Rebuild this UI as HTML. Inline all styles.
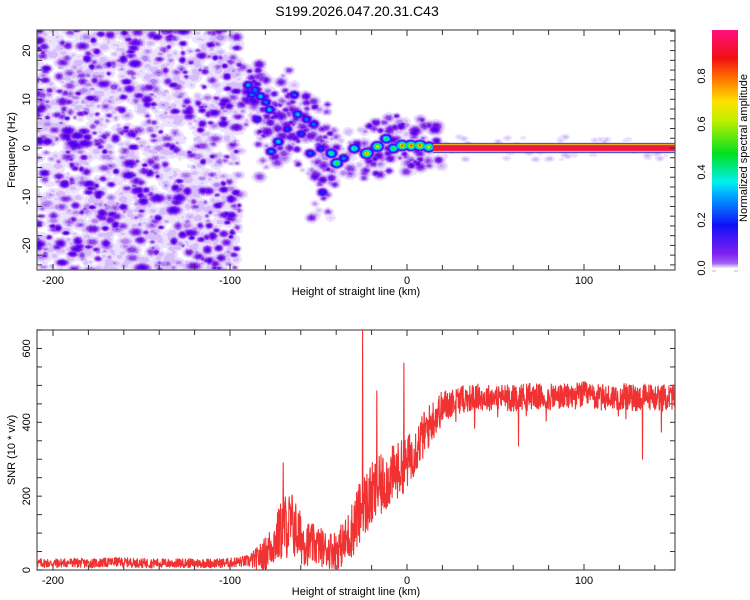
<!DOCTYPE html>
<html><head><meta charset="utf-8">
<style>
html,body{margin:0;padding:0;background:#fff;}
body{width:750px;height:600px;position:relative;overflow:hidden;font-family:"Liberation Sans",sans-serif;}
#spec{position:absolute;left:37px;top:30px;}
svg{position:absolute;left:0;top:0;}
text{font-family:"Liberation Sans",sans-serif;fill:#000;}
</style></head>
<body>
<canvas id="spec" width="638" height="240"></canvas>
<svg id="svg" width="750" height="600">
<text x="357" y="16" font-size="14" text-anchor="middle">S199.2026.047.20.31.C43</text>
<g id="axes"></g>
<g id="snr"></g>
<defs><linearGradient id="cbg" x1="0" y1="1" x2="0" y2="0">
<stop offset="0" stop-color="#f4eeff"/><stop offset="0.02" stop-color="#a060f0"/><stop offset="0.06" stop-color="#8020f0"/>
<stop offset="0.18" stop-color="#1010f8"/><stop offset="0.3" stop-color="#00a0ff"/><stop offset="0.36" stop-color="#00f0f0"/>
<stop offset="0.48" stop-color="#00e020"/><stop offset="0.62" stop-color="#c0f000"/><stop offset="0.7" stop-color="#ffe000"/>
<stop offset="0.8" stop-color="#ff7000"/><stop offset="0.88" stop-color="#f01010"/><stop offset="1" stop-color="#ff1080"/>
</linearGradient></defs>
<rect x="712" y="30" width="26" height="238" fill="url(#cbg)"/>
<line x1="712" y1="271" x2="716" y2="271" stroke="#bbb"/>
<line x1="734" y1="271" x2="738" y2="271" stroke="#bbb"/>
<text transform="translate(747,148) rotate(-90)" font-size="11" text-anchor="middle">Normalized spectral amplitude</text>
</svg>
<script>
// ---------- data ----------
const topXTicks=[-200,-100,0,100];
const topYTicks=[-20,-10,0,10,20];
const botYTicks=[0,200,400,600];
const cbTicks=[0.0,0.2,0.4,0.6,0.8];
// signal track blobs: height (km), frequency (Hz), amplitude
const trackX=[-90,-86,-83,-78,-73,-77,-64,-62,-57,-53,-49,-43,-40,-36,-30,-23,-17,-12,-8,-3,2,7,12,-60,-48,-55,-68,-85,-88,-80];
const trackF=[13,12,10.7,8,1.4,-0.6,11,7,6,5,0,-1,-3,-2,0,-1,0.4,2,0,0.6,0.6,0.6,0.3,3,-9,-1,4,6,11,9.5];
const trackA=[0.34,0.32,0.36,0.36,0.38,0.33,0.28,0.36,0.3,0.3,0.26,0.48,0.58,0.32,0.5,0.8,0.7,0.52,0.55,0.85,0.85,0.85,0.7,0.26,0.24,0.28,0.26,0.24,0.3,0.3];
const lineStart=14.7, lineAmp=0.95;
// SNR mean every 5 km from -210 to 150
const snrX0=-210, snrStep=5;
const snrMean=[18,19,18,19,20,19,18,19,20,22,21,20,19,18,19,18,18,19,18,19,18,19,20,22,24,
30,45,75,115,125,85,70,65,55,55,75,120,170,200,225,250,270,290,330,370,410,440,455,462,
465,468,466,470,468,465,470,472,468,466,470,468,472,475,470,466,468,470,468,465,470,468,466,470];
const snrAmp=[14,14,14,14,14,14,14,14,14,14,14,14,14,14,14,14,14,14,14,14,14,14,14,16,18,
34,50,70,100,100,80,65,60,55,60,70,90,100,100,95,90,85,80,75,70,62,52,46,42,
40,40,40,40,40,40,40,40,40,40,40,40,40,40,40,40,40,40,40,40,40,40,40,40];
const spikeX=[-25,-17,-1.7,63,133,-70];
const spikeV=[650,485,560,336,300,290];

// ---------- scales ----------
const XL=37,XR=675;
const sx=x=>407+1.77*x;
const fy=f=>148-4.87*f;
const vy=v=>570-0.3692*v;
const NS="http://www.w3.org/2000/svg";
function mk(tag,attrs,parent){const e=document.createElementNS(NS,tag);for(const k in attrs)e.setAttribute(k,attrs[k]);parent.appendChild(e);return e;}
let seed=12345;function rnd(){seed=(seed*1103515245+12345)&0x7fffffff;return seed/0x7fffffff;}

// ---------- spectrogram ----------
const W=638,H=240;
const field=new Float32Array(W*H);
function blob(cx,cy,amp,sgx,sgy){
  const rx=Math.ceil(sgx*3),ry=Math.ceil(sgy*3);
  for(let y=Math.max(0,Math.floor(cy-ry));y<Math.min(H,cy+ry);y++)
   for(let x=Math.max(0,Math.floor(cx-rx));x<Math.min(W,cx+rx);x++){
     const d=(x-cx)*(x-cx)/(2*sgx*sgx)+(y-cy)*(y-cy)/(2*sgy*sgy);
     const v=amp*Math.exp(-d);
     const i=y*W+x;
     if(v>field[i])field[i]=v;
   }
}
// haze
for(let i=0;i<650;i++){
  const x=-212+rnd()*117, f=-27+rnd()*54;
  const s=2.5+rnd()*2.5;
  blob(sx(x)-XL,fy(f)-30,0.085+0.03*rnd(),s*(1+rnd()*0.7),s);
}
// noise texture
for(let i=0;i<1200;i++){
  const x=-212+rnd()*117, f=-27+rnd()*54;
  const r=rnd();const s=1.8+rnd()*2.2;
  blob(sx(x)-XL,fy(f)-30,0.08+0.17*Math.pow(r,1.6),s*(1+rnd()*0.9),s);
}
// halo around track
for(let k=0;k<trackX.length;k++){
  for(let j=0;j<14;j++){
    const x=trackX[k]+(rnd()-0.5)*16, f=trackF[k]+(rnd()-0.5)*11;
    const s=2+rnd()*2.5;
    blob(sx(x)-XL,fy(f)-30,0.08+0.15*rnd(),s*1.3,s);
  }
}
// track blobs
for(let k=0;k<trackX.length;k++){
  blob(sx(trackX[k])-XL,fy(trackF[k])-30,trackA[k]*0.6+0.14,4.3,3.4);
  blob(sx(trackX[k])-XL,fy(trackF[k])-30,trackA[k],2.8,2.3);
}
// faint blobs along line
for(let i=0;i<60;i++){const x=15+rnd()*135;blob(sx(x)-XL,fy((rnd()-0.5)*5)-30,0.06+0.05*rnd(),4,2.5);}
// the constant line
const lx=Math.round(sx(lineStart)-XL);
for(let x=lx;x<W;x++)for(let y=0;y<H;y++){
  const dy=Math.abs(y+30+0.5-fy(0));
  let v=dy<3?lineAmp:dy<3.8?0.72:dy<4.5?0.48:dy<5.3?0.28:0;
  if(v)field[y*W+x]=Math.max(field[y*W+x],v);
}
const lev=[[0.05,null],[0.085,[236,224,255]],[0.115,[214,188,250]],[0.145,[180,130,240]],[0.175,[142,64,232]],
[0.21,[112,16,232]],[0.25,[70,0,240]],[0.29,[20,30,255]],[0.33,[0,110,255]],[0.38,[0,190,255]],[0.44,[0,240,230]],
[0.5,[0,224,90]],[0.58,[60,240,0]],[0.66,[190,240,0]],[0.74,[255,224,0]],[0.82,[255,128,0]],[0.9,[245,30,20]],[9,[240,20,70]]];
const cv=document.getElementById('spec'),ctx=cv.getContext('2d');
const img=ctx.createImageData(W,H);
for(let i=0;i<W*H;i++){
  const v=field[i];let c=null;
  for(const l of lev){if(v<l[0]){c=l[1];break;}}
  const o=i*4;
  if(c){img.data[o]=c[0];img.data[o+1]=c[1];img.data[o+2]=c[2];img.data[o+3]=255;}
  else{img.data[o]=255;img.data[o+1]=255;img.data[o+2]=255;img.data[o+3]=0;}
}
ctx.putImageData(img,0,0);

// ---------- axes ----------
const ax=document.getElementById('axes');
function frame(y0,y1,name){
  mk('rect',{x:XL,y:y0,width:XR-XL,height:y1-y0,fill:'none',stroke:'#555','stroke-width':1.2,},ax);
  for(let x=-200;x<=140;x+=20){
    const p=sx(x),len=(x%100===0)?6:5;
    mk('line',{x1:p,y1:y1,x2:p,y2:y1-len,stroke:'#333',},ax);
    mk('line',{x1:p,y1:y0,x2:p,y2:y0+len,stroke:'#333',},ax);
  }
  for(const t of topXTicks){
    const e=mk('text',{x:sx(t),y:y1+14,'font-size':11,'text-anchor':'middle',},ax);e.textContent=t;
  }
  const e=mk('text',{x:356,y:y1+25,'font-size':11,'text-anchor':'middle',},ax);
  e.textContent='Height of straight line (km)';
}
frame(30,270,'top-plot-frame');
frame(330,570,'bottom-plot-frame');
for(let f=-24;f<=24;f+=2){
  const p=fy(f);if(p<30||p>270)continue;
  mk('line',{x1:XL,y1:p,x2:XL+5,y2:p,stroke:'#333',},ax);
  mk('line',{x1:XR,y1:p,x2:XR-5,y2:p,stroke:'#333',},ax);
}
for(const t of topYTicks){
  const e=mk('text',{transform:`translate(30,${fy(t)}) rotate(-90)`,'font-size':11,'text-anchor':'middle',},ax);e.textContent=t;
}
{const e=mk('text',{transform:'translate(15,150) rotate(-90)','font-size':11,'text-anchor':'middle',},ax);e.textContent='Frequency (Hz)';}
for(let v=0;v<=650;v+=50){
  const p=vy(v);
  mk('line',{x1:XL,y1:p,x2:XL+5,y2:p,stroke:'#333',},ax);
  mk('line',{x1:XR,y1:p,x2:XR-5,y2:p,stroke:'#333',},ax);
}
for(const t of botYTicks){
  const e=mk('text',{transform:`translate(30,${vy(t)}) rotate(-90)`,'font-size':11,'text-anchor':'middle',},ax);e.textContent=t;
}
{const e=mk('text',{transform:'translate(15,450) rotate(-90)','font-size':11,'text-anchor':'middle',},ax);e.textContent='SNR (10 * v/v)';}
for(const t of cbTicks){
  const y=268-t*240;
  const e=mk('text',{transform:`translate(705,${y}) rotate(-90)`,'font-size':11,'text-anchor':'middle',},ax);e.textContent=t.toFixed(1);
}

// ---------- SNR line ----------
const g=document.getElementById('snr');
function interp(arr,x){const t=(x-snrX0)/snrStep;const i=Math.max(0,Math.min(arr.length-2,Math.floor(t)));const u=Math.max(0,Math.min(1,t-i));return arr[i]*(1-u)+arr[i+1]*u;}
seed=777;
const pts=[];
for(let x=-209;x<=151;x+=0.17){
  const m=interp(snrMean,x),a=interp(snrAmp,x);
  let v=m+(rnd()-0.5)*2*a*0.9;
  if(x>25&&rnd()<0.03)v-=a*1.6*rnd();
  for(let k=0;k<spikeX.length;k++)if(Math.abs(x-spikeX[k])<0.09)v=spikeV[k];
  v=Math.max(2,v);
  pts.push(sx(x).toFixed(1)+','+vy(v).toFixed(1));
}
const pl=mk('polyline',{points:pts.join(' '),fill:'none',stroke:'#f03232','stroke-width':1.1,'stroke-linejoin':'round'},g);


</script>
</body></html>
